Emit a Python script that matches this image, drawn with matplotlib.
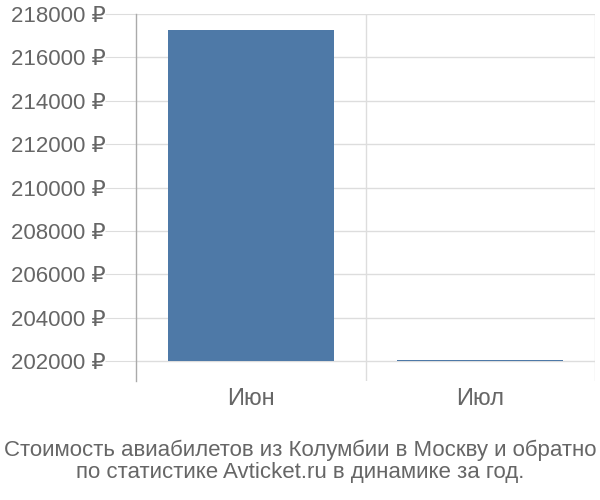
import matplotlib
matplotlib.use("Agg")
import matplotlib.pyplot as plt
from matplotlib.ticker import FixedLocator

categories = ["Июн", "Июл"]
values = [217260, 202040]
yticks = [202000, 204000, 206000, 208000, 210000, 212000, 214000, 216000, 218000]
ytick_labels = [f"{v} ₽" for v in yticks]
caption_lines = ["Стоимость авиабилетов из Колумбии в Москву и обратно",
                 "по статистике Avticket.ru в динамике за год."]

plt.rcParams['font.family'] = ['Liberation Sans', 'DejaVu Sans']
text_color = '#666666'
grid_color = '#dddddd'

fig = plt.figure(figsize=(6, 5), dpi=100)
ax = fig.add_axes([136/600, 1 - 381/500, (595-136)/600, (381-14)/500])

base = 202000
x = list(range(len(categories)))
ax.bar(x, [v - base for v in values], bottom=base, width=0.725, color='#4e79a7', zorder=3)

ax.set_xlim(-0.5, len(categories) - 0.5)
ax.set_ylim(201078, 218000)

ax.set_yticks(yticks)
ax.set_yticklabels(ytick_labels)
ax.set_xticks(x)
ax.set_xticklabels(categories)
ax.tick_params(axis='y', length=22, color=grid_color, labelsize=16, labelcolor=text_color, pad=0)
ax.tick_params(axis='x', length=0, labelsize=17, labelcolor=text_color, pad=5)

ax.grid(axis='y', color=grid_color, linewidth=1, zorder=0)
ax.xaxis.set_minor_locator(FixedLocator([0.5, 1.5]))
ax.grid(axis='x', which='minor', color=grid_color, linewidth=1, zorder=0)
ax.tick_params(axis='x', which='minor', length=0)

for s in ['top', 'right', 'bottom']:
    ax.spines[s].set_visible(False)
ax.spines['left'].set_color('#aaaaaa')
ax.spines['left'].set_linewidth(1)

for line, ypx in zip(caption_lines, [456, 478]):
    fig.text(0.5, 1 - ypx/500, line, ha='center', va='baseline', fontsize=16, color=text_color)

fig.savefig('out.png', dpi=100)
